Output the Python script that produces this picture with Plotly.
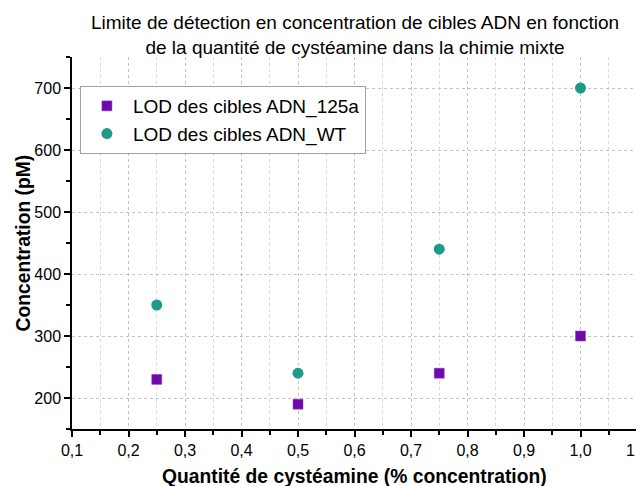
import plotly.graph_objects as go

x_vals = [0.25, 0.5, 0.75, 1.0]
lod_125a = [230, 190, 240, 300]
lod_wt = [350, 240, 440, 700]
name_125a = "LOD des cibles ADN_125a"
name_wt = "LOD des cibles ADN_WT"
title_text = "Limite de détection en concentration de cibles ADN en fonction<br>de la quantité de cystéamine dans la chimie mixte"
x_title = "Quantité de cystéamine (% concentration)"
y_title = "Concentration (pM)"
x_ticks = [0.1, 0.2, 0.3, 0.4, 0.5, 0.6, 0.7, 0.8, 0.9, 1.0, 1.1]
x_ticklabels = ["0,1", "0,2", "0,3", "0,4", "0,5", "0,6", "0,7", "0,8", "0,9", "1,0", "1,1"]
y_ticks = [200, 300, 400, 500, 600, 700]

FONT = "Liberation Sans, Arial, sans-serif"
GRID_DASH = "3px,3px"

fig = go.Figure()
fig.add_trace(go.Scatter(x=x_vals, y=lod_125a, mode="markers", name=name_125a,
                         marker=dict(symbol="square", size=10, color="#6E0AAA",
                                     line=dict(width=0.5, color="#8a3cc0"))))
fig.add_trace(go.Scatter(x=x_vals, y=lod_wt, mode="markers", name=name_wt,
                         marker=dict(symbol="circle", size=11, color="#1E9B88",
                                     line=dict(width=0))))

# page body has an 8px margin, so the figure is 8px smaller than the window
fig.update_layout(
    width=636, height=478,
    margin=dict(l=64, r=7, t=49, b=57, autoexpand=False),
    paper_bgcolor="white", plot_bgcolor="white",
    font=dict(family=FONT, color="black", size=14),
    legend=dict(x=0.014, y=0.922, xanchor="left", yanchor="top",
                bgcolor="white", bordercolor="#a0a0a0", borderwidth=1,
                font=dict(family=FONT, size=19, color="black"),
                itemwidth=42, tracegroupgap=0),
    showlegend=True,
    annotations=[
        dict(text=title_text, xref="paper", yref="paper", x=0.5, y=1, yshift=-3,
             xanchor="center", yanchor="bottom", showarrow=False,
             font=dict(family=FONT, size=19, color="black")),
        dict(text="<b>" + x_title + "</b>", xref="paper", yref="paper", x=0.5, y=0,
             yshift=-47, xanchor="center", yanchor="middle", showarrow=False,
             font=dict(family=FONT, size=19.3, color="black")),
        dict(text="<b>" + y_title + "</b>", xref="paper", yref="paper", x=0, y=0.5,
             xshift=-49.5, xanchor="center", yanchor="middle", textangle=-90, showarrow=False,
             font=dict(family=FONT, size=19.3, color="black")),
    ],
)

fig.update_xaxes(
    range=[0.1, 1.1], tickvals=x_ticks, ticktext=x_ticklabels, automargin=False,
    ticklabeloverflow="allow",
    ticks="outside", ticklen=6, tickwidth=1.5, tickcolor="black",
    showline=True, linecolor="black", linewidth=1.5,
    showgrid=True, gridcolor="#c4c4c4", griddash=GRID_DASH, gridwidth=1,
    zeroline=False,
    minor=dict(dtick=0.05, tick0=0.1, ticks="outside", ticklen=4, tickwidth=1.5, tickcolor="black",
               showgrid=True, gridcolor="#d8d8d8", griddash=GRID_DASH, gridwidth=1),
    tickfont=dict(family=FONT, size=16, color="black"),
)
fig.update_yaxes(
    range=[150, 750], tickvals=y_ticks, automargin=False,
    ticks="outside", ticklen=6, tickwidth=1.5, tickcolor="black",
    showline=True, linecolor="black", linewidth=1.5,
    showgrid=True, gridcolor="#c4c4c4", griddash=GRID_DASH, gridwidth=1,
    zeroline=False,
    minor=dict(dtick=50, tick0=0, ticks="outside", ticklen=4, tickwidth=1.5, tickcolor="black",
               showgrid=False),
    tickfont=dict(family=FONT, size=16, color="black"),
)

fig.write_html("out.html")
